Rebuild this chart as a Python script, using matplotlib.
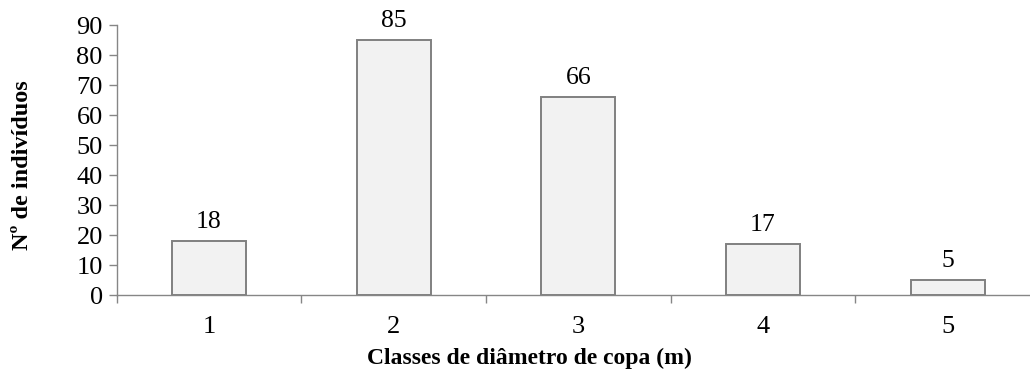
import matplotlib.pyplot as plt
import numpy as np

classes = ["1", "2", "3", "4", "5"]
counts = [18, 85, 66, 17, 5]
y_ticks = [0, 10, 20, 30, 40, 50, 60, 70, 80, 90]

plt.rcParams['font.family'] = ['Liberation Serif', 'DejaVu Serif']

fig = plt.figure(figsize=(10.30, 3.69), dpi=100)
# axis runs off the right side of the image, as in the original crop
ax = fig.add_axes([0.1133, 0.2005, 0.8964, 0.7317])

x = np.arange(len(classes))
rects = ax.bar(x, counts, 0.4, color='#f2f2f2', edgecolor='#808080', linewidth=1.4, zorder=3)

for rect, val in zip(rects, counts):
    ax.annotate(f'{val}', xy=(rect.get_x() + rect.get_width() / 2, rect.get_height()),
                xytext=(0, 6), textcoords="offset points", ha='center', va='bottom', fontsize=18.5)

ax.set_xlim(-0.5, len(classes) - 0.5)
ax.set_ylim(0, 90)
ax.set_yticks(y_ticks)
ax.set_xticks(x)
ax.set_xticklabels(classes, fontsize=19)
ax.set_xticks(np.arange(len(classes) + 1) - 0.5, minor=True)
ax.tick_params(axis='x', which='major', length=0, pad=15)
ax.tick_params(axis='x', which='minor', length=6, color='#868686', width=1)
ax.tick_params(axis='y', length=6, color='#868686', width=1, labelsize=19, pad=4)

for s in ['top', 'right']:
    ax.spines[s].set_visible(False)
for s in ['left', 'bottom']:
    ax.spines[s].set_color('#868686')
    ax.spines[s].set_linewidth(1)

ax.set_ylabel('Nº de indivíduos', fontsize=17.5, fontweight='bold')
ax.yaxis.set_label_coords(-0.0905, 0.481)
ax.set_xlabel('Classes de diâmetro de copa (m)', fontsize=17, fontweight='bold')
ax.xaxis.set_label_coords(0.4466, -0.195)

fig.savefig('out.png', dpi=100)
